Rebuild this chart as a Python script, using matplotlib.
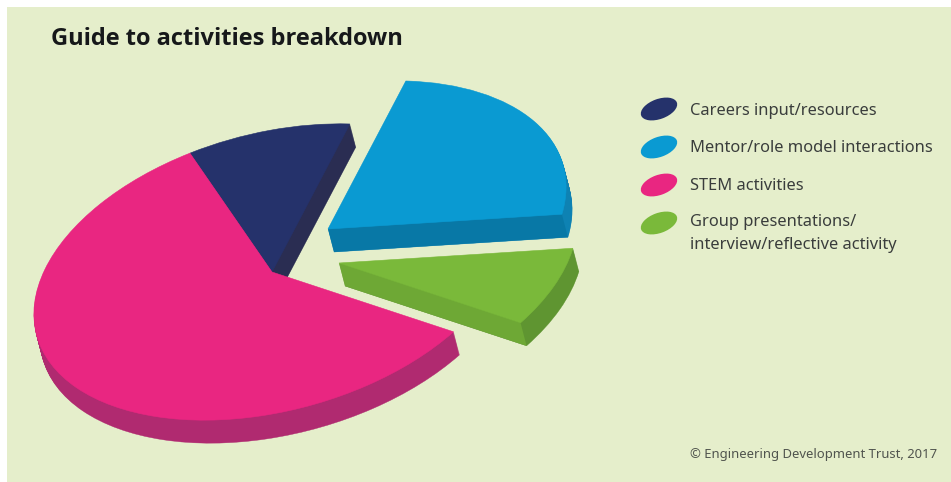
import matplotlib
matplotlib.use("Agg")
import matplotlib.pyplot as plt
from matplotlib.patches import PathPatch, Ellipse, Rectangle, Polygon
from matplotlib.transforms import Affine2D
import numpy as np

# Data (shares in percent)
categories = ["Careers input/resources", "Mentor/role model interactions", "STEM activities",
              "Group presentations/\ninterview/reflective activity"]
values = [10.9, 22.7, 58.2, 8.2]
colors = ["#25326b", "#0a9ad2", "#e92681", "#7ab93a"]
pie_order = [3, 1, 0, 2]  # counter-clockwise order round the pie
title = "Guide to activities breakdown"
credit = "\u00a9 Engineering Development Trust, 2017"

# Styling / layout
BG = "#e5eecb"
side_arc = {0: "#2a2d52", 1: "#0e82b3", 2: "#b02a70", 3: "#5f9531"}
side_cut = {1: "#0878a6", 3: "#6ea835"}
centers = {0: (272, 272), 1: (328, 229), 2: (272, 272), 3: (339, 263)}
A, B, TILT, START = 243.7, 138.8, 15, -49
DEPTH = (6, 23)
FONT = "Noto Sans"

fig = plt.figure(figsize=(9.51, 4.82), dpi=100, facecolor="white")
ax = fig.add_axes([0, 0, 1, 1])

wedges, _ = ax.pie([values[i] for i in pie_order], startangle=START, counterclock=True,
                   colors=[colors[i] for i in pie_order])
ax.set_aspect("auto")
ax.set_xlim(0, 951)
ax.set_ylim(482, 0)
ax.axis("off")
ax.add_patch(Rectangle((7, 7), 944, 475, fc=BG, ec="none", zorder=0))


def tf(cx, cy, dx=0.0, dy=0.0):
    return Affine2D().scale(A, -B).rotate_deg(-TILT).translate(cx + dx, cy + dy)


draw_rank = {0: 2, 2: 4, 1: 6, 3: 6}  # navy below pink; exploded slices apart
for w, idx in zip(wedges, pie_order):
    cx, cy = centers[idx]
    z = draw_rank[idx]
    # extruded rim: the slice's own path stepped down
    for s in np.linspace(1, 0, 25)[:-1]:
        ax.add_patch(PathPatch(w.get_path(), fc=side_arc[idx], ec=side_arc[idx], lw=0.3, zorder=z,
                               transform=tf(cx, cy, DEPTH[0] * s, DEPTH[1] * s) + ax.transData))
    # flat cut face
    if idx in side_cut:
        t = np.deg2rad(w.theta1)
        rim = tf(cx, cy).transform((np.cos(t), np.sin(t)))
        ax.add_patch(Polygon([(cx, cy), rim, rim + DEPTH, (cx + DEPTH[0], cy + DEPTH[1])],
                             fc=side_cut[idx], ec="none", zorder=z + 0.5))
    w.set_transform(tf(cx, cy) + ax.transData)
    w.set_zorder(z + 1)
    w.set_edgecolor(colors[idx])
    w.set_linewidth(0.4)

ax.text(51, 45, title, fontsize=17, fontweight="bold", family="Open Sans", color="#16181a",
        ha="left", va="baseline", zorder=10)

legend_y = [109, 147, 185, 223]
text_y = [115, 152, 190, 226]
for c, name, ey, ty in zip(colors, categories, legend_y, text_y):
    ax.add_patch(Ellipse((659, ey), 38, 20, angle=-20, fc=c, ec="none", zorder=10))
    lines = name.split("\n")
    for k, line in enumerate(lines):
        ax.text(690, ty + 23 * k, line, fontsize=11.85, family=FONT, color="#3a3d3c", ha="left",
                va="baseline", zorder=10)

ax.text(690, 458, credit, fontsize=9.4, family=FONT, color="#50544e", ha="left", va="baseline", zorder=10)

fig.savefig("out.png", dpi=100, facecolor="white")
